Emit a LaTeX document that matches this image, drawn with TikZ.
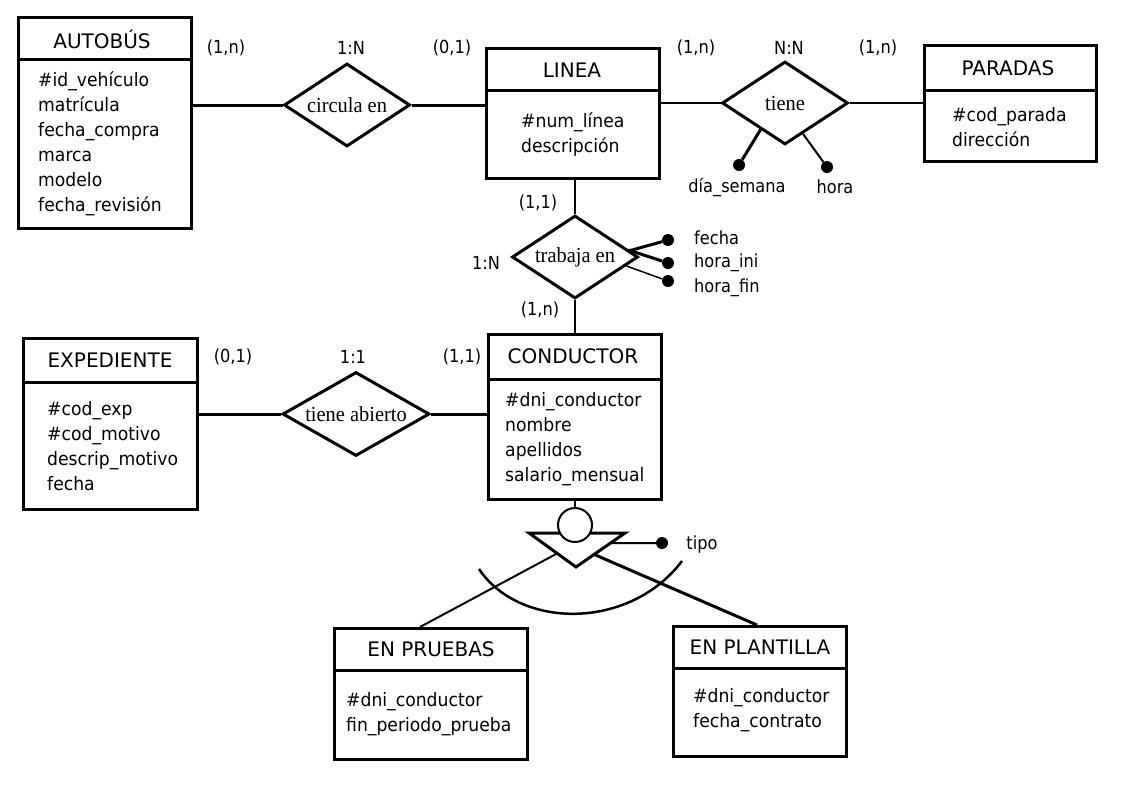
\documentclass[tikz,border=0pt]{standalone}
\usepackage{fontspec}
\setmainfont{DejaVu Sans}
\newfontfamily\condfont[FakeStretch=0.93]{DejaVu Sans}
\newfontfamily\lblfont[FakeStretch=0.9]{DejaVu Sans}
\newfontfamily\relfont[FakeStretch=0.95]{Liberation Serif}
\usetikzlibrary{shapes.geometric,calc}
\begin{document}
\begin{tikzpicture}[x=1pt,y=-1pt,
  entity/.style={draw,line width=3pt,rectangle,anchor=north west,inner sep=0pt},
  divider/.style={line width=3pt},
  hdr/.style={inner sep=0pt,font=\fontsize{20}{20}\selectfont},
  attr/.style={inner sep=0pt,anchor=west,align=left,font=\condfont\fontsize{18.5}{25}\selectfont},
  rel/.style={diamond,draw,line width=3pt,inner sep=0pt,font=\relfont\fontsize{21.5}{21.5}\selectfont},
  lbl/.style={inner sep=0pt,font=\lblfont\fontsize{18}{18}\selectfont},
  dot/.style={circle,fill,inner sep=0pt,minimum size=12pt},
  conn/.style={line width=3pt},
  mconn/.style={line width=2pt},
  tconn/.style={line width=1.5pt}]
\fill[white] (0,0) rectangle (1142,796);
\useasboundingbox (0,0) rectangle (1142,796);

% ---------- entities ----------
% AUTOBUS
\node[entity,minimum width=173pt,minimum height=211pt] (autobus) at (17,16) {};
\path (autobus.north west) ++(0,43) coordinate (autobusd);
\draw[divider] (autobusd) -- (autobusd -| autobus.east);
\node[hdr] (autobush) at (102,39) {AUTOBÚS};
\node[attr] (autobusa) at (38,143.5) {\#id\_vehículo\\matrícula\\fecha\_compra\\marca\\modelo\\fecha\_revisión};

% LINEA
\node[entity,minimum width=173pt,minimum height=130pt] (linea) at (485,47) {};
\path (linea.north west) ++(0,43) coordinate (linead);
\draw[divider] (linead) -- (linead -| linea.east);
\node[hdr] (lineah) at (572,70) {LINEA};
\node[attr] (lineaa) at (521,135) {\#num\_línea\\descripción};

% PARADAS
\node[entity,minimum width=172pt,minimum height=116pt] (paradas) at (923,44) {};
\path (paradas.north west) ++(0,46) coordinate (paradasd);
\draw[divider] (paradasd) -- (paradasd -| paradas.east);
\node[hdr] (paradash) at (1008,68) {PARADAS};
\node[attr] (paradasa) at (952,127.5) {\#cod\_parada\\dirección};

% EXPEDIENTE
\node[entity,minimum width=174pt,minimum height=171pt] (expediente) at (22,337) {};
\path (expediente.north west) ++(0,45) coordinate (expedd);
\draw[divider] (expedd) -- (expedd -| expediente.east);
\node[hdr] (expedh) at (110,360) {EXPEDIENTE};
\node[attr] (expeda) at (47,446.5) {\#cod\_exp\\\#cod\_motivo\\descrip\_motivo\\fecha};

% CONDUCTOR
\node[entity,minimum width=173pt,minimum height=165pt] (conductor) at (487,333) {};
\path (conductor.north west) ++(0,46) coordinate (conductord);
\draw[divider] (conductord) -- (conductord -| conductor.east);
\node[hdr] (conductorh) at (573,356) {CONDUCTOR};
\node[attr] (conductora) at (505,439) {\#dni\_conductor\\nombre\\apellidos\\salario\_mensual};

% EN PRUEBAS
\node[entity,minimum width=193pt,minimum height=131pt] (pruebas) at (333,627) {};
\path (pruebas.north west) ++(0,43) coordinate (pruebasd);
\draw[divider] (pruebasd) -- (pruebasd -| pruebas.east);
\node[hdr] (pruebash) at (431,649) {EN PRUEBAS};
\node[attr] (pruebasa) at (346,714.5) {\#dni\_conductor\\fin\_periodo\_prueba};

% EN PLANTILLA
\node[entity,minimum width=173pt,minimum height=130pt] (plantilla) at (672,625) {};
\path (plantilla.north west) ++(0,43) coordinate (plantillad);
\draw[divider] (plantillad) -- (plantillad -| plantilla.east);
\node[hdr] (plantillah) at (760,647) {EN PLANTILLA};
\node[attr] (plantillaa) at (693,710.5) {\#dni\_conductor\\fecha\_contrato};

% ---------- relationships ----------
\node[rel,aspect=1.5,minimum width=126pt,minimum height=83pt] (circ) at (347,105) {circula en};
\node[rel,aspect=1.5,minimum width=126pt,minimum height=83pt] (tiene) at (785,103) {tiene};
\node[rel,aspect=1.55,minimum width=126pt,minimum height=83pt] (trab) at (575,257) {trabaja en};
\node[rel,aspect=1.75,minimum width=147pt,minimum height=84pt] (tab) at (356,414) {tiene abierto};

% ---------- connectors ----------
\draw[conn] (circ.west) -- (circ.west -| autobus.east);
\draw[conn] (circ.east) -- (circ.east -| linea.west);
\draw[mconn] (tiene.west) -- (tiene.west -| linea.east);
\draw[tconn] (tiene.east) -- (tiene.east -| paradas.west);
\draw[tconn] (trab.north) -- (trab.north |- linea.south);
\draw[tconn] (trab.south) -- (trab.south |- conductor.north);
\draw[conn] (tab.west) -- (tab.west -| expediente.east);
\draw[conn] (tab.east) -- (tab.east -| conductor.west);

% cardinalities
\node[lbl] (c1) at (226,48) {(1,n)};
\node[lbl] (c2) at (351,48) {1:N};
\node[lbl] (c3) at (452,48) {(0,1)};
\node[lbl] (c4) at (696,48) {(1,n)};
\node[lbl] (c5) at (789,48) {N:N};
\node[lbl] (c6) at (878,48) {(1,n)};
\node[lbl] (c7) at (538,203) {(1,1)};
\node[lbl] (c8) at (486,263) {1:N};
\node[lbl] (c9) at (540,310) {(1,n)};
\node[lbl] (c10) at (233,357) {(0,1)};
\node[lbl] (c11) at (353,357) {1:1};
\node[lbl] (c12) at (462,357) {(1,1)};

% attributes of tiene
\node[dot] (dsem) at (739,165) {};
\node[dot] (dhora) at (827,167) {};
\coordinate (ts1) at ($(tiene.west)!0.62!(tiene.south)$);
\coordinate (ts2) at ($(tiene.east)!0.72!(tiene.south)$);
\draw[conn] (ts1) -- (dsem);
\draw[mconn] (ts2) -- (dhora);
\node[lbl] (lsem) at (737,187) {día\_semana};
\node[lbl] (lhora) at (835,187) {hora};

% attributes of trabaja en
\node[dot] (dfecha) at (668,240) {};
\node[dot] (dini) at (668,263) {};
\node[dot] (dfin) at (668,281) {};
\coordinate (tw1) at ($(trab.east)+(-11,-6)$);
\coordinate (tw2) at ($(trab.east)+(-11,-7)$);
\coordinate (tw3) at ($(trab.east)+(-13,9)$);
\draw[conn] (tw1) -- (dfecha);
\draw[conn] (tw2) -- (dini);
\draw[tconn] (tw3) -- (dfin);
\node[lbl,anchor=west] (lfecha) at (694,238) {fecha};
\node[lbl,anchor=west] (lini) at (694,263) {hora\_ini};
\node[lbl,anchor=west] (lfin) at (694,288) {hora\_fin};

% ---------- ISA ----------
\coordinate (tl) at (529,533);
\coordinate (tr) at (625,533);
\coordinate (tb) at (576,567);
\draw[line width=3pt,line join=miter] (tl) -- (tr) -- (tb) -- cycle;
\node[circle,draw,fill=white,line width=2pt,minimum size=34pt,inner sep=0pt] (isac) at (575,525) {};
\draw[mconn] (isac.north) -- (isac.north |- conductor.south);
\coordinate (tp) at ($(tr)!0.3!(tb)$);
\node[dot] (dtipo) at (662,543) {};
\draw[mconn] (tp) -- (dtipo);
\node[lbl] (ltipo) at (702,545) {tipo};
\coordinate (il) at ($(tl)!0.6!(tb)$);
\coordinate (ir) at ($(tr)!0.63!(tb)$);
\coordinate (prtop) at ($(pruebas.north west)+(87,0)$);
\coordinate (pltop) at ($(plantilla.north west)+(85,0)$);
\draw[mconn] (il) -- (prtop);
\draw[conn] (ir) -- (pltop);
\coordinate (arcl) at (479,569);
\coordinate (arcr) at (682,561);
\draw[line width=2.5pt] (arcl) .. controls (520,630) and (630,630) .. (arcr);
\end{tikzpicture}
\end{document}
